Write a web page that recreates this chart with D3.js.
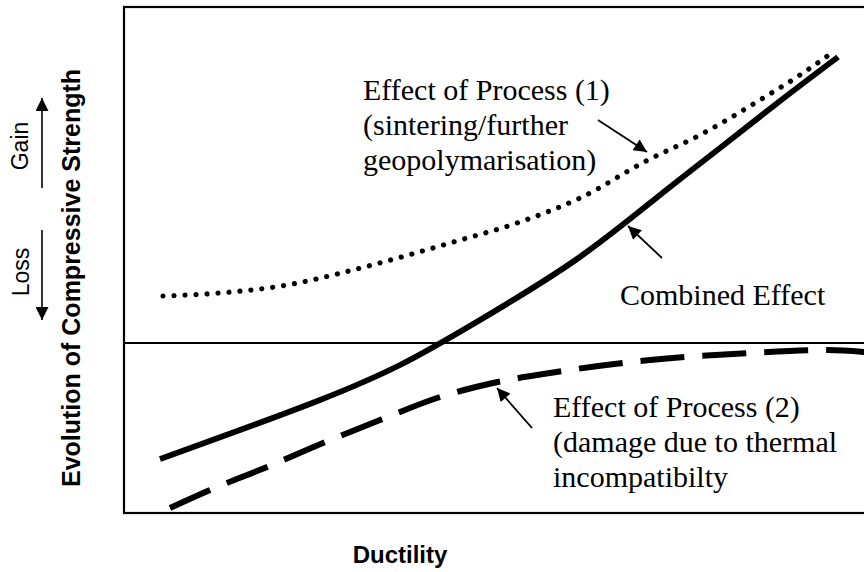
<!DOCTYPE html>
<html>
<head>
<meta charset="utf-8">
<script src="https://cdn.jsdelivr.net/npm/d3@7"></script>
<style>
html,body{margin:0;padding:0;background:#fff;}
svg{display:block;}
</style>
</head>
<body>
<svg id="chart" width="864" height="572"></svg>
<script>
// Data (x = ductility units, y = strength change; 0 = no change)
const combinedX = [36, 116, 196, 276, 356, 453, 536, 596, 656, 714];
const combinedY = [-116, -87, -57, -22, 23, 84, 148, 195, 242, 286];

const process1X = [39, 96, 163, 229, 263, 326, 396, 456, 524, 576, 636, 676, 709];
const process1Y = [47, 50, 58, 73, 82, 100, 121, 145, 183, 208, 243, 268, 291];

const process2X = [46, 86, 143, 199, 256, 316, 369, 426, 526, 626, 703, 740, 760];
const process2Y = [-165, -147, -124, -100, -77, -54, -40, -30, -17, -10, -7, -9, -11];

const labels1 = ["Effect of Process (1)", "(sintering/further", "geopolymarisation)"];
const labelsC = ["Combined Effect"];
const labels2 = ["Effect of Process (2)", "(damage due to thermal", "incompatibilty"];

// annotation anchors in data units: [textX, firstBaselineY, arrowFromX, arrowFromY, arrowToX, arrowToY]
const annot1 = [239, 243, 474, 223, 523, 191];
const annotC = [496, 38, 538, 85, 504, 117];
const annot2 = [429, -74, 408, -85, 373, -45];

const xTitle = "Ductility";
const yTitle = "Evolution of Compressive Strength";
const gainText = "Gain";
const lossText = "Loss";

const svg = d3.select("#chart");
const x = d3.scaleLinear().domain([0, 746]).range([124, 870]);
const y = d3.scaleLinear().domain([-170, 336]).range([513, 7]);

const defs = svg.append("defs");
defs.append("marker").attr("id", "ah").attr("viewBox", "0 0 10 10")
  .attr("refX", 10).attr("refY", 5).attr("markerWidth", 15).attr("markerHeight", 13)
  .attr("markerUnits", "userSpaceOnUse").attr("orient", "auto")
  .append("path").attr("d", "M0,0 L10,5 L0,10 Z").attr("fill", "#000");

// Frame
svg.append("rect").attr("x", x(0)).attr("y", y(336)).attr("width", x(746) - x(0)).attr("height", y(-170) - y(336))
  .attr("fill", "none").attr("stroke", "#000").attr("stroke-width", 2.2);
// zero line
svg.append("line").attr("x1", x(0)).attr("x2", x(746)).attr("y1", y(0)).attr("y2", y(0))
  .attr("stroke", "#000").attr("stroke-width", 1.8);

const line = d3.line().x(d => x(d[0])).y(d => y(d[1])).curve(d3.curveMonotoneX);
const smooth = d3.line().x(d => x(d[0])).y(d => y(d[1])).curve(d3.curveNatural);
const zip = (a, b) => a.map((v, i) => [v, b[i]]);

svg.append("path").datum(zip(process2X, process2Y)).attr("d", line)
  .attr("fill", "none").attr("stroke", "#000").attr("stroke-width", 6).attr("stroke-dasharray", "44 18");
svg.append("path").datum(zip(process1X, process1Y)).attr("d", line)
  .attr("fill", "none").attr("stroke", "#000").attr("stroke-width", 5.2)
  .attr("stroke-linecap", "round").attr("stroke-dasharray", "0.01 11");
svg.append("path").datum(zip(combinedX, combinedY)).attr("d", smooth)
  .attr("fill", "none").attr("stroke", "#000").attr("stroke-width", 5.8);

// annotations
function annotate(lines, a) {
  const t = svg.append("text").attr("font-family", "'Liberation Serif','Times New Roman',serif")
    .attr("font-size", 30).attr("fill", "#000");
  lines.forEach((s, i) => {
    t.append("tspan").attr("x", x(a[0])).attr("y", y(a[1]) + i * 35).text(s);
  });
  svg.append("line").attr("x1", x(a[2])).attr("y1", y(a[3])).attr("x2", x(a[4])).attr("y2", y(a[5]))
    .attr("stroke", "#000").attr("stroke-width", 1.8).attr("marker-end", "url(#ah)");
}
annotate(labels1, annot1);
annotate(labelsC, annotC);
annotate(labels2, annot2);

// axis titles
svg.append("text").attr("x", 400).attr("y", 563).attr("text-anchor", "middle")
  .attr("font-family", "'Liberation Sans',Arial,sans-serif").attr("font-weight", "bold").attr("font-size", 24)
  .text(xTitle);
svg.append("text").attr("transform", "translate(80,278) rotate(-90)").attr("text-anchor", "middle")
  .attr("font-family", "'Liberation Sans',Arial,sans-serif").attr("font-weight", "bold").attr("font-size", 25)
  .text(yTitle);
svg.append("text").attr("transform", "translate(28,146) rotate(-90)").attr("text-anchor", "middle")
  .attr("font-family", "'Liberation Sans',Arial,sans-serif").attr("font-size", 23).text(gainText);
svg.append("text").attr("transform", "translate(29,272) rotate(-90)").attr("text-anchor", "middle")
  .attr("font-family", "'Liberation Sans',Arial,sans-serif").attr("font-size", 23).text(lossText);

// gain / loss arrows
svg.append("line").attr("x1", 42).attr("x2", 42).attr("y1", 188).attr("y2", 98)
  .attr("stroke", "#000").attr("stroke-width", 1.6).attr("marker-end", "url(#ah)");
svg.append("line").attr("x1", 42).attr("x2", 42).attr("y1", 230).attr("y2", 320)
  .attr("stroke", "#000").attr("stroke-width", 1.6).attr("marker-end", "url(#ah)");
</script>
</body>
</html>
